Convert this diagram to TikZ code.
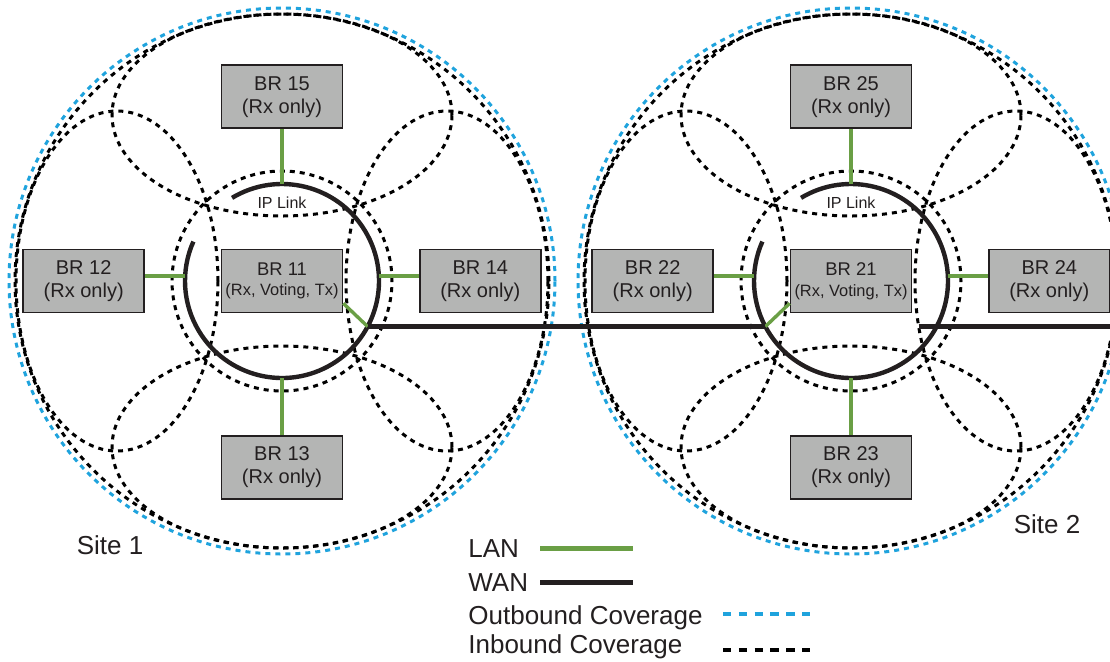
\documentclass[tikz,border=0pt]{standalone}
\usepackage{fontspec}
\setmainfont{Liberation Sans}
\usepackage{xcolor}
\usepackage{tikz}
\usetikzlibrary{
  shapes.geometric,
  positioning,
  calc
}
\definecolor{brLAN}{HTML}{6A9F45}
\definecolor{brWAN}{HTML}{231F20}
\definecolor{brOut}{HTML}{1FA3DD}
\definecolor{brBox}{HTML}{B4B5B4}
\definecolor{brText}{HTML}{231F20}
\tikzset{
  brnode/.style={
    draw=brText, fill=brBox, line width=0.8pt, minimum width=60.5pt, minimum height=31.5pt,
    inner sep=1pt, align=center, text=brText, font=\fontsize{10}{11.5}\selectfont
  },
  brmain/.style={brnode, font=\fontsize{9.2}{10.3}\selectfont},
  incov/.style={draw=black, line width=1.5pt, dash pattern=on 2.5pt off 2.5pt, inner sep=0pt, outer sep=0pt},
  outcov/.style={incov, draw=brOut},
  lan/.style={brLAN, line width=1.7pt},
  wan/.style={brWAN, line width=2.2pt},
  iptxt/.style={font=\fontsize{8}{9}\selectfont, text=brText, inner sep=0pt},
  sitelbl/.style={font=\fontsize{13}{15}\selectfont, text=brText, inner sep=0pt},
  legtxt/.style={sitelbl, anchor=base west},
  leglan/.style={lan, line width=2.5pt},
  legwan/.style={wan, line width=2.5pt},
  legin/.style={draw=black, line width=2.4pt, dash pattern=on 4.2pt off 3.7pt},
  legout/.style={legin, draw=brOut}
}
\begin{document}
\begin{tikzpicture}[x=0.5pt, y=-0.5pt, node distance=20pt]
  \useasboundingbox (0,0) rectangle (1110,661);
  \clip (0,0) rectangle (1110,661);
  \coordinate (edge) at (1110,0);
  \foreach \s/\cx in {1/282, 2/851}{
    \coordinate (c\s) at (\cx,281);
    % coverage
    \node[outcov, circle, minimum size=273pt] (tx\s) at (c\s) {};
    \node[incov, circle, minimum size=267pt] (rx\s) at (c\s) {};
    \node[incov, circle, minimum size=110pt] (cov\s1) at (c\s) {};
    \node[incov, ellipse, minimum width=170pt, minimum height=101pt] (cov\s5) at ($(c\s)+(0,-166)$) {};
    \node[incov, ellipse, minimum width=170pt, minimum height=101pt] (cov\s3) at ($(c\s)+(0,166)$) {};
    \node[incov, ellipse, minimum width=101pt, minimum height=170pt] (cov\s2) at ($(c\s)+(-165,0)$) {};
    \node[incov, ellipse, minimum width=101pt, minimum height=170pt] (cov\s4) at ($(c\s)+(165,0)$) {};
    % IP link ring
    \node[circle, minimum size=97pt, inner sep=0pt, outer sep=0pt] (ip\s) at (c\s) {};
    \draw[wan] ($(c\s)+(-121:97)$) arc[start angle=-121, end angle=204, radius=97];
    \node[iptxt] (ipl\s) at ($(c\s)+(0,-78)$) {IP Link};
    % base radios
    \node[brmain] (b\s1) at (c\s) {BR \s1\\{\fontsize{8.2}{10.3}\selectfont(Rx, Voting, Tx)}};
    \node[brnode, above=27.5pt of ip\s] (b\s5) {BR \s5\\(Rx only)};
    \node[brnode, below=28.5pt of ip\s] (b\s3) {BR \s3\\(Rx only)};
    \node[brnode, left=of ip\s] (b\s2) {BR \s2\\(Rx only)};
    \node[brnode, right=of ip\s] (b\s4) {BR \s4\\(Rx only)};
    \draw[lan] (b\s5) -- (ip\s.north);
    \draw[lan] (b\s3) -- (ip\s.south);
    \draw[lan] ([yshift=2.5pt]b\s2.east) -- ([yshift=2.5pt]b\s2.east -| ip\s.west);
    \draw[lan] ([yshift=2.5pt]b\s4.west) -- ([yshift=2.5pt]b\s4.west -| ip\s.east);
  }
  \draw[lan] (b11.-20) -- (ip1.-28);
  \draw[lan] (b21.200) -- (ip2.208);
  \draw[wan] (ip1.-28) -- (ip2.208);
  \draw[wan] (cov24.205) -- (cov24.205 -| edge);
  \node[sitelbl] (site1) at (110,545) {Site 1};
  \node[sitelbl] (site2) at (1047,524) {Site 2};
  % legend
  \node[legtxt] (lanlbl) at (468,557) {LAN};
  \node[legtxt] (wanlbl) at (468,591) {WAN};
  \node[legtxt] (outlbl) at (468,624) {Outbound Coverage};
  \node[legtxt] (inlbl) at (468,653) {Inbound Coverage};
  \coordinate (lanA) at (540,548);
  \coordinate (lanB) at (633,548);
  \coordinate (wanA) at (540,582);
  \coordinate (wanB) at (633,582);
  \coordinate (outA) at (723,614);
  \coordinate (outB) at (811,614);
  \coordinate (inA) at (723,650);
  \coordinate (inB) at (811,650);
  \draw[leglan] (lanA) -- (lanB);
  \draw[legwan] (wanA) -- (wanB);
  \draw[legout] (outA) -- (outB);
  \draw[legin] (inA) -- (inB);
\end{tikzpicture}
\end{document}
